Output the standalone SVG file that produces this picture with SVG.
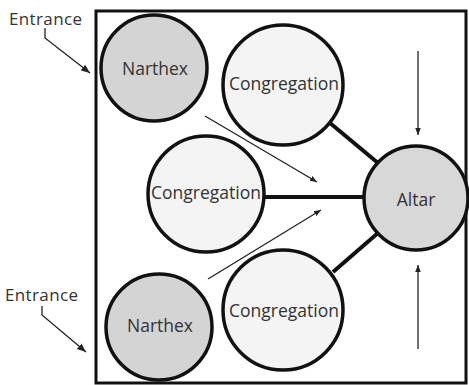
<svg xmlns="http://www.w3.org/2000/svg" width="469" height="385" viewBox="0 0 469 385">
<defs>
<marker id="ah" viewBox="0 0 10 10" refX="10" refY="5" markerWidth="7" markerHeight="7" orient="auto" markerUnits="userSpaceOnUse">
<path d="M0,1 L10,5 L0,9 Z" fill="#222"/>
</marker>
<marker id="ahL" viewBox="0 0 10 10" refX="10" refY="5" markerWidth="9" markerHeight="9" orient="auto" markerUnits="userSpaceOnUse">
<path d="M0,1 L10,5 L0,9 Z" fill="#222"/>
</marker>
</defs>
<style>
.lbl{font-family:"Open Sans","Liberation Sans",sans-serif;font-size:17.5px;fill:#333;text-anchor:middle;dominant-baseline:central}
.ent{font-family:"Open Sans","Liberation Sans",sans-serif;font-size:17px;fill:#333}
.nar{fill:#d4d4d4;stroke:#111;stroke-width:3.5}
.con{fill:#f4f4f4;stroke:#111;stroke-width:3.5}
.alt{fill:#d8d8d8;stroke:#111;stroke-width:3.5}
.thick{stroke:#111;stroke-width:4;fill:none}
.thin{stroke:#222;stroke-width:1.3;fill:none}
</style>
<rect x="96" y="11" width="370" height="372" fill="#fff" stroke="#111" stroke-width="3"/>
<g id="connectors">
<line class="thick" x1="265" y1="197" x2="366" y2="197"/>
<line class="thick" x1="330" y1="123" x2="378" y2="163"/>
<line class="thick" x1="333" y1="272" x2="378" y2="233"/>
<line class="thin" x1="205" y1="116" x2="317" y2="182" marker-end="url(#ah)"/>
<line class="thin" x1="208" y1="279" x2="321" y2="210" marker-end="url(#ah)"/>
<line class="thin" x1="418" y1="51" x2="418" y2="135" marker-end="url(#ah)"/>
<line class="thin" x1="418" y1="349" x2="418" y2="265" marker-end="url(#ah)"/>
<polyline class="thin" points="45,28 45,38 90,73" marker-end="url(#ahL)"/>
<polyline class="thin" points="42,306 42,315 86,352" marker-end="url(#ahL)"/>
</g>
<g id="entrance-top"><text class="ent" x="9" y="25" textLength="73">Entrance</text></g>
<g id="entrance-bottom"><text class="ent" x="5" y="301" textLength="73">Entrance</text></g>
<g id="narthex-top"><circle class="nar" cx="154" cy="68" r="53"/><text class="lbl" x="155" y="68">Narthex</text></g>
<g id="congregation-top"><circle class="con" cx="283" cy="85" r="60"/><text class="lbl" x="284" y="83">Congregation</text></g>
<g id="congregation-mid"><circle class="con" cx="206" cy="194" r="58"/><text class="lbl" x="206" y="192">Congregation</text></g>
<g id="congregation-bottom"><circle class="con" cx="283" cy="310" r="60"/><text class="lbl" x="284" y="310">Congregation</text></g>
<g id="narthex-bottom"><circle class="nar" cx="159" cy="327" r="53"/><text class="lbl" x="160" y="325">Narthex</text></g>
<g id="altar"><circle class="alt" cx="416" cy="198" r="52"/><text class="lbl" x="416" y="199">Altar</text></g>
</svg>
